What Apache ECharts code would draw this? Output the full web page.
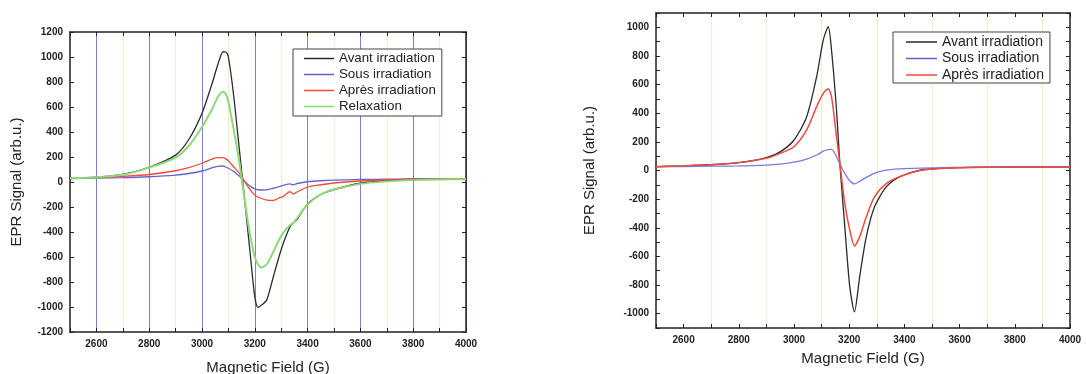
<!DOCTYPE html>
<html><head><meta charset="utf-8">
<script src="https://cdn.jsdelivr.net/npm/echarts@6/dist/echarts.min.js"></script>
<style>html,body{margin:0;padding:0;background:#fff}#c{width:1086px;height:374px}</style>
</head><body><div id="c"></div>
<script>
// ---- Left panel data (Magnetic Field in G, EPR signal arb.u.)
const leftField = [2500,2600,2700,2800,2900,2950,3000,3040,3060,3080,3090,3100,3120,3140,3160,3180,3200,3212,3225,3245,3270,3290,3308,3333,3345,3360,3400,3450,3500,3600,3700,3800,3900,4000];
const leftAvant = [27,38,60,118,215,340,550,800,940,1042,1040,1000,690,290,-110,-520,-920,-1005,-985,-945,-760,-610,-490,-360,-330,-300,-175,-100,-60,-10,12,22,25,27];
const leftSous  = [30,32,35,42,55,68,88,115,125,128,120,110,85,50,8,-30,-55,-62,-64,-63,-50,-38,-27,-15,-22,-12,2,10,15,20,22,24,25,26];
const leftApres = [30,35,45,60,90,115,150,185,195,195,185,170,120,75,10,-55,-105,-120,-132,-145,-148,-130,-115,-77,-95,-80,-40,-22,-8,8,18,22,25,27];
const leftRelax = [30,38,58,115,195,290,440,590,680,722,705,640,420,180,-120,-400,-600,-660,-683,-660,-560,-470,-405,-345,-331,-290,-180,-100,-60,-15,5,15,20,22];
// ---- Right panel data
const rightField = [2500,2600,2700,2800,2900,2950,3000,3046,3082,3106,3124,3136,3154,3166,3184,3202,3219,3238,3262,3292,3335,3384,3457,3541,3600,3700,3800,3900,4000];
const rightAvant = [27,32,40,55,90,130,213,376,655,911,1004,840,422,52,-392,-811,-988,-741,-462,-253,-113,-43,3,17,20,23,24,25,25];
const rightSous  = [27,28,30,32,38,45,58,80,108,135,146,147,97,45,-20,-72,-94,-75,-48,-18,3,12,17,20,22,24,25,25,25];
const rightApres = [27,32,40,55,85,120,166,283,446,539,571,515,236,52,-229,-415,-527,-462,-323,-183,-90,-43,0,15,20,23,24,25,25];
// ---- Labels
const seriesNames = ['Avant irradiation','Sous irradiation','Après irradiation','Relaxation'];
const xTitle = 'Magnetic Field (G)';
const yTitle = 'EPR Signal (arb.u.)';

const zip = (xs, ys) => xs.map((x, i) => [x, ys[i]]);
const FONT = '"Liberation Sans", Arial, sans-serif';
const BLUEGRID = '#7f7fd2', FAINT = '#edf0c8';

function xAxisPair(gridIndex, splitColors, gap) {
  const base = {
    type: 'value', gridIndex, min: 2500, max: 4000, interval: 100,
    axisLine: { show: true, onZero: false, lineStyle: { color: '#222', width: 1.5 } },
    axisTick: { show: true, inside: true, length: 4, lineStyle: { color: '#222', width: 1 } },
  };
  return [
    Object.assign({}, base, {
      position: 'bottom',
      axisLabel: { show: true, margin: 7, color: '#222', fontFamily: FONT, fontWeight: 'bold', fontSize: 10,
        formatter: v => (v % 200 === 0 ? String(v) : '') },
      splitLine: { show: true, lineStyle: { color: splitColors, width: 1 } },
      name: xTitle, nameLocation: 'middle', nameGap: gap,
      nameTextStyle: { fontFamily: FONT, fontSize: 15, color: '#222' }
    }),
    Object.assign({}, base, { position: 'top', axisLabel: { show: false }, splitLine: { show: false } })
  ];
}
function yAxisPair(gridIndex, min, max, interval, gap) {
  const base = {
    type: 'value', gridIndex, min, max, interval,
    axisLine: { show: true, onZero: false, lineStyle: { color: '#222', width: 1.5 } },
    axisTick: { show: true, inside: true, length: 4, lineStyle: { color: '#222', width: 1 } },
    splitLine: { show: false },
  };
  return [
    Object.assign({}, base, {
      position: 'left',
      axisLabel: { show: true, margin: 7, color: '#222', fontFamily: FONT, fontWeight: 'bold', fontSize: 10,
        formatter: v => (v % 200 === 0 ? String(v) : '') },
      name: yTitle, nameLocation: 'middle', nameGap: gap, nameRotate: 90,
      nameTextStyle: { fontFamily: FONT, fontSize: 15, color: '#222' }
    }),
    Object.assign({}, base, { position: 'right', axisLabel: { show: false } })
  ];
}

const colors = { avant: '#2b2b2b', sous: '#6363cf', apres: '#f04a3a', relax: '#8fd878', sous2: '#7a7ae0' };
function line(name, data, xi, yi, color, width) {
  return { type: 'line', name, data, xAxisIndex: xi, yAxisIndex: yi, showSymbol: false, symbol: 'none',
    smooth: 0.25, lineStyle: { color, width }, itemStyle: { color }, animation: false, z: 3 };
}

const chart = echarts.init(document.getElementById('c'), null, { renderer: 'canvas' });
chart.setOption({
  animation: false,
  backgroundColor: '#fff',
  grid: [
    { left: 70, top: 32, width: 396, height: 300, containLabel: false, outerBoundsMode: 'none' },
    { left: 656, top: 13, width: 414, height: 315, containLabel: false, outerBoundsMode: 'none' }
  ],
  xAxis: [...xAxisPair(0, [FAINT, BLUEGRID], 28), ...xAxisPair(1, [FAINT, 'rgba(0,0,0,0)'], 23)],
  yAxis: [...yAxisPair(0, -1200, 1200, 200, 46), ...yAxisPair(1, -1100, 1100, 100, 59)],
  legend: [
    { data: seriesNames, left: 293, top: 49, orient: 'vertical', icon: 'rect', itemWidth: 30, itemHeight: 1.5, itemGap: 3,
      padding: [3, 6, 3, 11], borderColor: '#444', borderWidth: 1, backgroundColor: '#fff',
      textStyle: { fontFamily: FONT, fontSize: 13.3, color: '#222' }, selectedMode: false },
    { data: seriesNames.slice(0, 3), left: 893, top: 32, orient: 'vertical', icon: 'rect', itemWidth: 31, itemHeight: 1.5, itemGap: 2.5,
      padding: [3, 6, 1, 13], borderColor: '#444', borderWidth: 1, backgroundColor: '#fff',
      textStyle: { fontFamily: FONT, fontSize: 14, color: '#222' }, selectedMode: false }
  ],
  series: [
    line(seriesNames[0], zip(leftField, leftAvant), 0, 0, colors.avant, 1.3),
    line(seriesNames[1], zip(leftField, leftSous), 0, 0, colors.sous, 1.3),
    line(seriesNames[2], zip(leftField, leftApres), 0, 0, colors.apres, 1.3),
    line(seriesNames[3], zip(leftField, leftRelax), 0, 0, colors.relax, 2),
    line(seriesNames[0], zip(rightField, rightAvant), 2, 2, colors.avant, 1.3),
    line(seriesNames[1], zip(rightField, rightSous), 2, 2, colors.sous2, 1.3),
    line(seriesNames[2], zip(rightField, rightApres), 2, 2, colors.apres, 1.5)
  ]
});
</script></body></html>
